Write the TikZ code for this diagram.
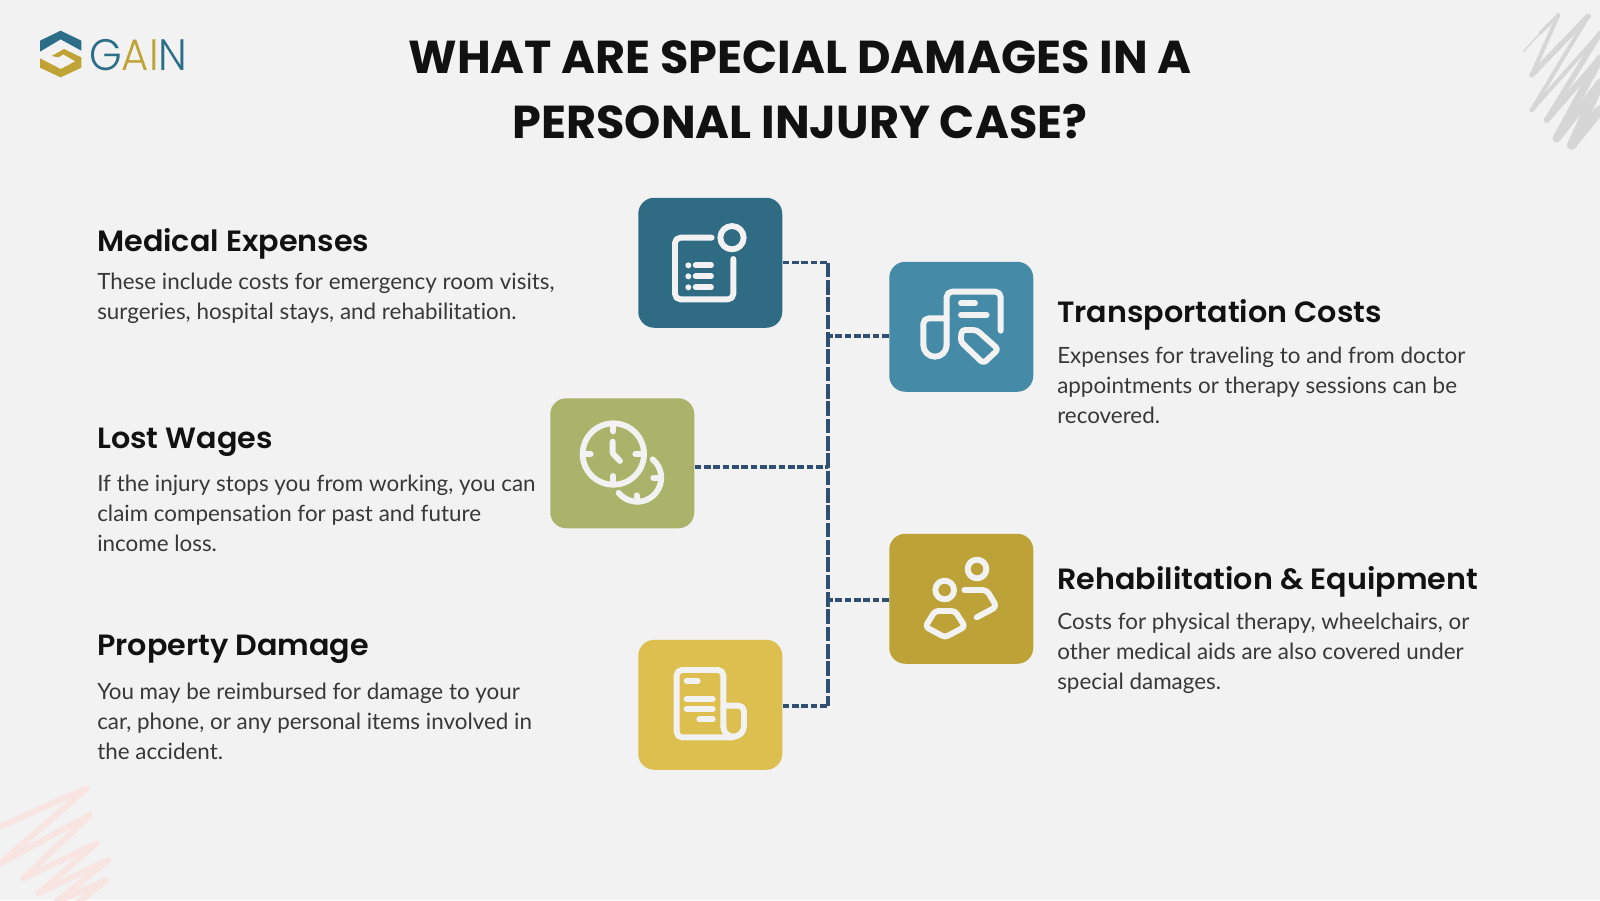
\documentclass[tikz,border=0pt]{standalone}
\usepackage{fontspec}
\setmainfont[Ligatures=NoCommon]{Lato}
\newfontfamily\titlef{Poppins}
\newfontfamily\headf[FakeStretch=1.03]{Poppins SemiBold}
\newfontfamily\logof[FakeStretch=.95]{Poppins Light}
\definecolor{bg}{HTML}{F2F2F2}
\definecolor{ink}{HTML}{111111}
\definecolor{body}{HTML}{383838}
\definecolor{wire}{HTML}{2F4F73}
\definecolor{cA}{HTML}{2F6B82}
\definecolor{cB}{HTML}{458BA8}
\definecolor{cC}{HTML}{ABB36B}
\definecolor{cD}{HTML}{BDA337}
\definecolor{cE}{HTML}{DDBF4F}
\definecolor{teal}{HTML}{2C6E88}
\definecolor{gold}{HTML}{BFA335}
\definecolor{scrg}{HTML}{D6D6D6}
\definecolor{scrp}{HTML}{F8E5E1}
\tikzset{
  tile/.style={fill=#1,draw=none,rounded corners=12pt,inner sep=0pt,minimum width=108pt,minimum height=97.5pt},
  wireh/.style={draw=wire,line width=2.3pt,dash pattern=on 5pt off 2pt},
  wirev/.style={draw=wire,line width=2.3pt,dash pattern=on 11pt off 2pt},
  ico/.style={draw=bg,line width=4.4pt,line cap=round,line join=round,rounded corners=4pt,fill=none},
  head/.style={anchor=base west,inner sep=0pt,font=\headf\fontsize{22}{24}\selectfont,text=ink},
  txt/.style={anchor=base west,inner sep=0pt,font=\fontsize{16.8}{20}\selectfont,text=body},
  ttl/.style={anchor=base,inner sep=0pt,font=\titlef\bfseries\fontsize{34.6}{40}\selectfont,text=ink},
  zoomA/.style={x=0.25pt,y=-0.25pt}
}
\begin{document}
\begin{tikzpicture}[x=0.75pt,y=-0.75pt]
\useasboundingbox (0,0) rectangle (1600,900);
\fill[bg] (0,0) rectangle (1600,900);
% scribbles
\begin{scope}[shift={(1500,0)},zoomA,draw=scrg,line cap=round,line join=round]
\draw[line width=1pt] (70,155) -- (120,100);
\draw[line width=2.5pt] (120,100) -- (175,45);
\draw[line width=3pt] (175,45) -- (95,225);
\draw[line width=4pt] (95,225) -- (265,48);
\draw[line width=3pt] (265,48) -- (95,330);
\draw[line width=3pt] (95,330) -- (300,100);
\draw[line width=4pt] (300,100) -- (140,360);
\draw[line width=4.5pt] (140,360) -- (300,175);
\draw[line width=6pt] (300,175) -- (170,415);
\draw[line width=6pt] (170,415) -- (300,250);
\draw[line width=7pt] (300,250) -- (215,435);
\draw[line width=7pt] (215,435) -- (300,330);
\end{scope}
\begin{scope}[shift={(0,770)},zoomA,draw=scrp,line cap=round,line join=round,line width=4.5pt]
\draw (0,170) -- (260,55) -- (0,280) -- (270,135) -- (70,325) -- (290,220) -- (115,370) -- (325,270) -- (170,395) -- (320,330) -- (230,400);
\end{scope}
% logo
\begin{scope}[zoomA]
\fill[teal] (120,122) -- (182,92) -- (244,122) -- (244,152) -- (182,118) -- (120,155) -- cycle;
\fill[gold] (120,175) -- (182,207) -- (226,184) -- (190,163) -- (175,172) -- (155,168) -- (192,147) -- (244,172) -- (244,203) -- (182,232) -- (120,203) -- cycle;
\end{scope}
\node[anchor=base west,inner sep=0pt,font=\logof\fontsize{33}{36}\selectfont] (logotext) at (89,70) {\textcolor{teal}{G}\textcolor{gold}{AI}\textcolor{teal}{N}};
% title
\node[ttl] (t1) at (800,73.5) {WHAT ARE SPECIAL DAMAGES IN A};
\node[ttl] (t2) at (800,138) {PERSONAL INJURY CASE?};
% tiles
\node[tile=cA,anchor=north west] (med) at (638,197.5) {};
\node[tile=cB,anchor=north west] (tra) at (889,261.5) {};
\node[tile=cC,anchor=north west] (wag) at (550,398) {};
\node[tile=cD,anchor=north west] (reh) at (889,533.5) {};
\node[tile=cE,anchor=north west] (pro) at (638,639.5) {};
% connectors
\coordinate (jtop) at (828,262.5);
\coordinate (jbot) at (828,706);
\draw[wireh] (med.east |- jtop) -- (jtop);
\draw[wireh] (pro.east |- jbot) -- (jbot);
\draw[wirev] (jtop) -- (jbot);
\coordinate (ja) at (826,336);
\coordinate (jb) at (828,467);
\coordinate (jc) at (826,600);
\draw[wireh] (ja) -- (tra.west |- ja);
\draw[wireh] (wag.east |- jb) -- (jb);
\draw[wireh] (jc) -- (reh.west |- jc);
% icon 1
\begin{scope}[shift={(630,190)},zoomA]
\draw[ico] (245,143) -- (135,143) -- (135,328) -- (310,328) -- (310,207);
\draw[ico,rounded corners=0] (306,143) circle (35);
\foreach \yy in {226,259,292}{
  \fill[bg] (175,\yy) circle (9);
  \draw[ico] (197,\yy) -- (243,\yy);
}
\end{scope}
% icon 2
\begin{scope}[shift={(630,190)},zoomA]
\draw[ico] (950,385) -- (880,385) -- (880,465);
\draw[ico,rounded corners=0] (880,465) arc[start angle=180,end angle=0,radius=35];
\draw[ico] (950,465) -- (950,305) -- (1112,305) -- (1112,422);
\draw[ico,rounded corners=2.5pt] (995,420) -- (1040,420) -- (1105,478) -- (1060,520) -- (992,455) -- cycle;
\draw[ico] (993,340) -- (1035,340);
\draw[ico] (993,375) -- (1070,375);
\end{scope}
% icon 3
\begin{scope}[shift={(540,390)},zoomA]
\draw[ico,rounded corners=0] (220,192) circle (92);
\draw[ico] (220,110) -- (220,124) (220,258) -- (220,274) (137,192) -- (152,192) (286,192) -- (302,192);
\draw[ico,rounded corners=0] (218,155) -- (218,190) -- (240,213);
\draw[ico,rounded corners=0] (338,208) arc[start angle=-50,end angle=141,radius=72];
\draw[ico] (340,263) -- (358,263) (290,316) -- (290,334);
\end{scope}
% icon 4
\begin{scope}[shift={(630,530)},zoomA]
\draw[ico,rounded corners=0] (1041,117) circle (28);
\draw[ico,rounded corners=0] (944,180) circle (28);
\draw[ico,rounded corners=3pt] (1003,180) -- (1070,180) -- (1100,230) -- (1040,262);
\draw[ico,rounded corners=2.5pt] (915,243) -- (975,243) -- (1005,290) -- (945,322) -- (886,290) -- cycle;
\end{scope}
% icon 5
\begin{scope}[shift={(630,530)},zoomA]
\draw[ico] (310,622) -- (140,622) -- (140,420) -- (280,420) -- (280,590);
\draw[ico,rounded corners=0] (280,590) arc[start angle=180,end angle=90,radius=30];
\draw[ico,rounded corners=0] (310,620) arc[start angle=90,end angle=0,radius=32];
\draw[ico] (342,588) -- (342,527) -- (285,527);
\draw[ico] (170,453) -- (203,453) (170,507) -- (248,507) (170,537) -- (248,537) (208,568) -- (248,568);
\end{scope}
% texts
\node[head] (h1) at (97,251.5) {Medical Expenses};
\node[txt] (b1a) at (97,289) {These include costs for emergency room visits,};
\node[txt] (b1b) at (97,319) {surgeries, hospital stays, and rehabilitation.};
\node[head] (h2) at (97,448) {Lost Wages};
\node[txt] (b2a) at (97,491) {If the injury stops you from working, you can};
\node[txt] (b2b) at (97,521) {claim compensation for past and future};
\node[txt] (b2c) at (97,551) {income loss.};
\node[head] (h3) at (97,655) {Property Damage};
\node[txt] (b3a) at (97,699) {You may be reimbursed for damage to your};
\node[txt] (b3b) at (97,729) {car, phone, or any personal items involved in};
\node[txt] (b3c) at (97,759) {the accident.};
\node[head] (h4) at (1057,322) {Transportation Costs};
\node[txt] (b4a) at (1057,363) {Expenses for traveling to and from doctor};
\node[txt] (b4b) at (1057,393) {appointments or therapy sessions can be};
\node[txt] (b4c) at (1057,423) {recovered.};
\node[head] (h5) at (1057,589.5) {Rehabilitation \& Equipment};
\node[txt] (b5a) at (1057,629) {Costs for physical therapy, wheelchairs, or};
\node[txt] (b5b) at (1057,659) {other medical aids are also covered under};
\node[txt] (b5c) at (1057,689) {special damages.};
\end{tikzpicture}
\end{document}
